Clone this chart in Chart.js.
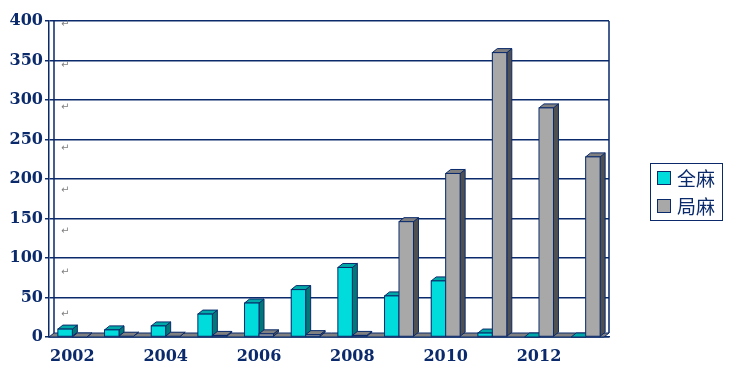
<!DOCTYPE html>
<html>
<head>
<meta charset="utf-8">
<script src="https://cdn.jsdelivr.net/npm/chart.js@4/dist/chart.umd.min.js"></script>
<style>
  body { margin: 0; background: #fff; }
  #wrap { position: relative; width: 732px; height: 376px; }
  #legend {
    position: absolute; left: 650px; top: 163px; width: 73px; height: 58px;
    border: 1px solid #0a2a6b; box-sizing: border-box;
    font-family: "Noto Sans CJK SC", sans-serif; font-size: 19px; color: #0a2a6b;
  }
  .item { position: absolute; left: 6px; display: flex; align-items: center; line-height: 22px; }
  .sw { width: 12px; height: 12px; border: 1px solid #0a2a6b; margin-right: 6px; }
</style>
</head>
<body>
<div id="wrap">
  <canvas id="chart" width="732" height="376"></canvas>
  <div id="legend">
    <div class="item" style="top:3px"><span class="sw" style="background:#00dcdc"></span>全麻</div>
    <div class="item" style="top:31px"><span class="sw" style="background:#a8a8a8"></span>局麻</div>
  </div>
</div>
<script>
const years = ["2002", "2003", "2004", "2005", "2006", "2007", "2008", "2009", "2010", "2011", "2012", "2013"];
const general = [10, 9, 14, 29, 43, 60, 88, 52, 71, 5, 0, 0];   // 全麻
const local = [0, 1, 1, 2, 4, 3, 2, 146, 207, 360, 290, 228];   // 局麻
const yTicks = [0, 50, 100, 150, 200, 250, 300, 350, 400];

const navy = "#0a2a6b";
const DX = 5, DY = 4;

const bar3d = {
  id: "bar3d",
  beforeDatasetsDraw(chart) {
    const ctx = chart.ctx, a = chart.chartArea;
    ctx.save();
    // floor
    ctx.fillStyle = "#808080";
    ctx.strokeStyle = navy;
    ctx.lineWidth = 1;
    ctx.beginPath();
    ctx.moveTo(a.left, a.bottom);
    ctx.lineTo(a.left + DX, a.bottom - DY);
    ctx.lineTo(a.right, a.bottom - DY);
    ctx.lineTo(a.right - DX, a.bottom);
    ctx.closePath();
    ctx.fill();
    ctx.stroke();
    // paragraph marks
    ctx.fillStyle = "#808080";
    ctx.font = "10px 'DejaVu Sans'";
    for (let i = 0; i < 8; i++) ctx.fillText("↵", a.left + 12, a.top + 6 + i * 41.4);
    ctx.restore();
  },
  afterDatasetsDraw(chart) {
    const ctx = chart.ctx;
    const styles = [
      { front: "#00dcdc", top: "#00a8a8", side: "#007878" },
      { front: "#a8a8a8", top: "#808080", side: "#505050" }
    ];
    const bars = [];
    chart.data.datasets.forEach((ds, di) => {
      chart.getDatasetMeta(di).data.forEach(el => bars.push({ el, s: styles[di] }));
    });
    bars.sort((p, q) => p.el.x - q.el.x);
    ctx.save();
    ctx.strokeStyle = navy;
    ctx.lineWidth = 1;
    bars.forEach(({ el, s }) => {
      const { x, y, base, width } = el.getProps(["x", "y", "base", "width"], true);
      const l = x - width / 2, r = x + width / 2;
      // side
      ctx.fillStyle = s.side;
      ctx.beginPath();
      ctx.moveTo(r, y); ctx.lineTo(r + DX, y - DY); ctx.lineTo(r + DX, base - DY); ctx.lineTo(r, base);
      ctx.closePath(); ctx.fill(); ctx.stroke();
      // top
      ctx.fillStyle = s.top;
      ctx.beginPath();
      ctx.moveTo(l, y); ctx.lineTo(l + DX, y - DY); ctx.lineTo(r + DX, y - DY); ctx.lineTo(r, y);
      ctx.closePath(); ctx.fill(); ctx.stroke();
      // front
      if (base - y > 0.5) {
        ctx.fillStyle = s.front;
        ctx.fillRect(l, y, width, base - y);
        ctx.strokeRect(l, y, width, base - y);
      }
    });
    // back wall edges
    const a = chart.chartArea;
    ctx.lineWidth = 1.5;
    ctx.beginPath();
    ctx.moveTo(a.left + DX, a.top); ctx.lineTo(a.left + DX, a.bottom - DY);
    ctx.moveTo(a.right, a.top); ctx.lineTo(a.right, a.bottom - DY);
    ctx.stroke();
    ctx.restore();
  }
};

new Chart(document.getElementById("chart").getContext("2d"), {
  type: "bar",
  data: {
    labels: years,
    datasets: [
      { label: "全麻", data: general, backgroundColor: "#00dcdc", borderColor: navy, borderWidth: 1 },
      { label: "局麻", data: local, backgroundColor: "#a8a8a8", borderColor: navy, borderWidth: 1 }
    ]
  },
  options: {
    responsive: false,
    animation: false,
    layout: { padding: { top: 21, right: 123, bottom: 0, left: 0 } },
    datasets: { bar: { categoryPercentage: 0.62, barPercentage: 1.0 } },
    plugins: { legend: { display: false }, tooltip: { enabled: false } },
    scales: {
      x: {
        afterFit: s => { s.height = 39; },
        grid: { display: false },
        border: { display: true, color: navy, width: 1.5 },
        ticks: {
          autoSkip: false, maxRotation: 0, padding: 2,
          color: navy, font: { family: "DejaVu Serif", size: 16, weight: "bold" },
          callback: (v, i) => (i % 2 === 0 ? years[i] : "")
        }
      },
      y: {
        min: 0, max: 400,
        afterFit: s => { s.width = 49; },
        afterBuildTicks: s => { s.ticks = yTicks.map(v => ({ value: v })); },
        grid: { color: navy, lineWidth: 1.5, tickLength: 4 },
        border: { display: true, color: navy, width: 1.5 },
        ticks: {
          padding: 2,
          color: navy, font: { family: "DejaVu Serif", size: 16, weight: "bold" }
        }
      }
    }
  },
  plugins: [bar3d]
});
</script>
</body>
</html>
